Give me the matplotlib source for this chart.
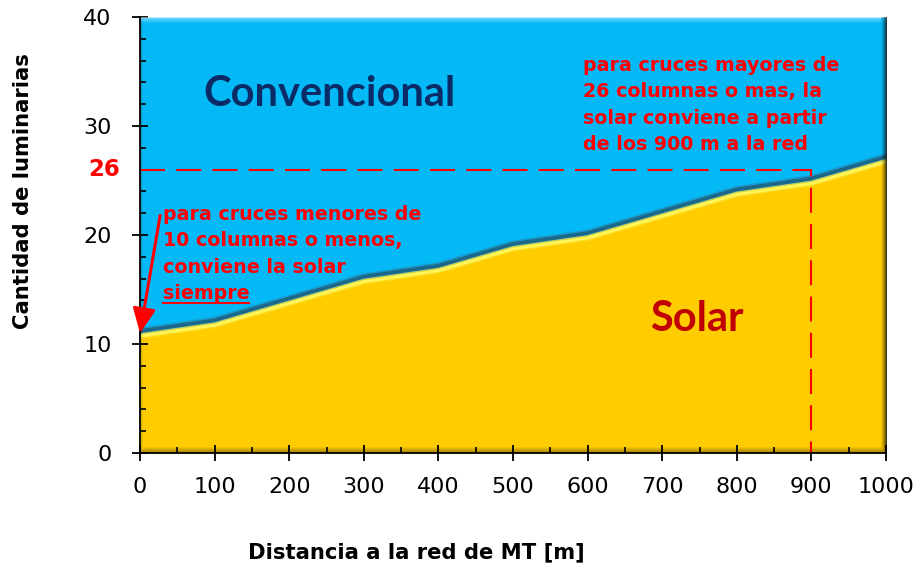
import numpy as np
import matplotlib
matplotlib.use("Agg")
import matplotlib.pyplot as plt
from matplotlib import transforms
from matplotlib.lines import Line2D

# --- data -------------------------------------------------------------
distancia = [0, 100, 200, 300, 400, 500, 600, 700, 800, 900, 1000]   # m to the MT grid
limite = [11, 12, 14, 16, 17, 19, 20, 22, 24, 25, 27]                # luminaires: solar / conventional boundary
y_max = 40
umbral_columnas = 26
umbral_distancia = 900
xticks = list(range(0, 1001, 100))
yticks = [0, 10, 20, 30, 40]

W, H = 921, 571
fig = plt.figure(figsize=(W / 100, H / 100), dpi=100)
fig.patch.set_facecolor("white")

L, R, T, B = 140, 886, 17, 453
ax = fig.add_axes([L / W, 1 - B / H, (R - L) / W, (B - T) / H])
ax.set_xlim(0, 1000)
ax.set_ylim(0, y_max)

AZUL = "#05B8F6"
AMARILLO = "#FFCC00"
ROJO = "#FF0000"

x = np.array(distancia, dtype=float)
y = np.array(limite, dtype=float)
ax.fill_between(x, 0, y, color=AMARILLO, lw=0, zorder=1)
ax.fill_between(x, y, y_max, color=AZUL, lw=0, zorder=1)

# bevel of the boundary: dark shadow above, bright rim below
up = transforms.offset_copy(ax.transData, fig=fig, x=0, y=2, units="dots")
dn = transforms.offset_copy(ax.transData, fig=fig, x=0, y=-3, units="dots")
ax.plot(x, y, color="#2b7fa0", lw=5.0, alpha=0.5, transform=up, zorder=2,
        solid_capstyle="butt", solid_joinstyle="round")
ax.plot(x, y, color="#1d6888", lw=2.6, transform=up, zorder=2,
        solid_capstyle="butt", solid_joinstyle="round")
ax.plot(x, y, color="#FFE83A", lw=4.0, alpha=0.6, transform=dn, zorder=2,
        solid_capstyle="butt", solid_joinstyle="round")
ax.plot(x, y, color="#FFF75A", lw=2.0, transform=dn, zorder=2,
        solid_capstyle="butt", solid_joinstyle="round")

# bevelled frame of the plot area
hp, wp = B - T, R - L
yy, xx = np.mgrid[0:hp, 0:wp]
d_right = (wp - 1 - xx).astype(float)
d_bottom = (hp - 1 - yy).astype(float)
d_top = yy.astype(float)
d_left = xx.astype(float)
dark = np.zeros((hp, wp))
dark = np.maximum(dark, 0.75 * np.clip(1 - d_right / 6.0, 0, 1) ** 1.5)
dark = np.maximum(dark, 0.35 * np.clip(1 - d_bottom / 6.0, 0, 1))
dark = np.maximum(dark, 0.18 * np.clip(1 - d_left / 3.0, 0, 1))
light = 0.45 * np.clip(1 - d_top / 6.0, 0, 1)
light[d_right < 6] *= 0.3
shade = np.zeros((hp, wp, 4))
shade[..., 3] = dark
glow = np.ones((hp, wp, 4))
glow[..., 3] = light
ax.imshow(shade, extent=(0, 1, 0, 1), transform=ax.transAxes, aspect="auto",
          interpolation="bilinear", zorder=3)
ax.imshow(glow, extent=(0, 1, 0, 1), transform=ax.transAxes, aspect="auto",
          interpolation="bilinear", zorder=3)
ax.set_xlim(0, 1000)
ax.set_ylim(0, y_max)

# threshold guide lines
ax.plot([0, umbral_distancia, umbral_distancia], [umbral_columnas, umbral_columnas, 0],
        color=ROJO, lw=1.5, dashes=(12, 5.4), zorder=4, clip_on=False)
blend = transforms.blended_transform_factory(ax.transAxes, ax.transData)
ax.text(-0.027, umbral_columnas, str(umbral_columnas), transform=blend, ha="right",
        va="center", color=ROJO, fontsize=16.5, fontweight="bold", family="DejaVu Sans")

# axes styling
for s in ["top", "right"]:
    ax.spines[s].set_visible(False)
for s in ["left", "bottom"]:
    ax.spines[s].set_linewidth(1.3)
    ax.spines[s].set_zorder(5)
ax.set_xticks(xticks)
ax.set_yticks(yticks)
ax.set_xticks(np.arange(50, 1000, 100), minor=True)
ax.set_yticks([v for v in range(2, 40, 2) if v % 10], minor=True)
ax.tick_params(which="major", direction="inout", length=11, width=1.3, labelsize=16,
               zorder=6)
ax.tick_params(axis="x", which="major", pad=12)
ax.tick_params(axis="y", which="major", pad=15)
ax.tick_params(which="minor", direction="in", length=4.5, width=1.2, zorder=6)

# axis titles
fig.text(23 / W, 1 - 191 / H, "Cantidad de luminarias", rotation=90, ha="center",
         va="center", fontsize=15.2, fontweight="bold", family="DejaVu Sans")
fig.text(416 / W, 1 - 552 / H, "Distancia a la red de MT [m]", ha="center",
         va="center", fontsize=15.2, fontweight="bold", family="DejaVu Sans")

# region names
fig.text(203 / W, 1 - 106 / H, "Convencional", ha="left", va="baseline",
         color="#0B2B66", fontsize=30, fontweight="bold", family="Lato")
fig.text(650 / W, 1 - 331 / H, "Solar", ha="left", va="baseline",
         color="#C00000", fontsize=30, fontweight="bold", family="Lato")

# notes
izq = ["para cruces menores de", "10 columnas o menos,", "conviene la solar", "siempre"]
for i, t in enumerate(izq):
    fig.text(163 / W, 1 - (220 + 26.4 * i) / H, t, ha="left", va="baseline",
             color=ROJO, fontsize=13.7, fontweight="bold", family="DejaVu Sans")
fig.add_artist(Line2D([163 / W, 249 / W], [1 - 303 / H, 1 - 303 / H], color=ROJO, lw=1.5))

der = ["para cruces mayores de", "26 columnas o mas, la", "solar conviene a partir",
       "de los 900 m a la red"]
for i, t in enumerate(der):
    fig.text(583 / W, 1 - (71 + 26.4 * i) / H, t, ha="left", va="baseline",
             color=ROJO, fontsize=13.7, fontweight="bold", family="DejaVu Sans")

# arrow to the boundary at the origin
ax.annotate("", xy=(distancia[0], limite[0]), xytext=(27, 21.8),
            arrowprops=dict(arrowstyle="-|>,head_length=1.5,head_width=0.7",
                            color=ROJO, lw=2.2, shrinkA=0, shrinkB=0),
            annotation_clip=False, zorder=7)

fig.savefig("out.png", dpi=100)
